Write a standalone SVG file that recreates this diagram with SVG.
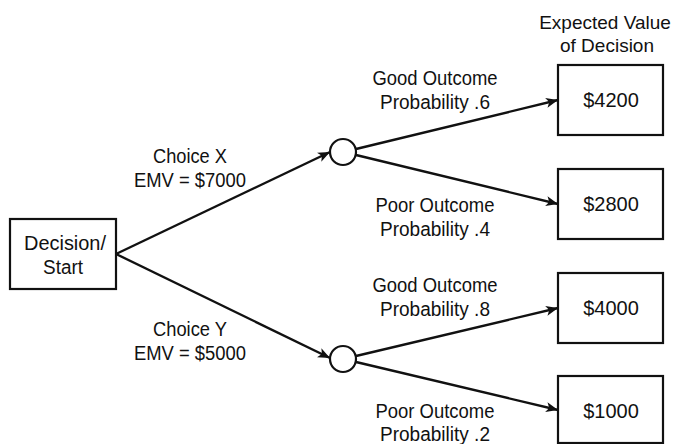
<svg xmlns="http://www.w3.org/2000/svg" width="675" height="444" viewBox="0 0 675 444">
  <style>
    text { font-family: "Liberation Sans", Arial, sans-serif; font-size: 20px; fill: #111; text-anchor: middle; }
    .box { fill: #fff; stroke: #111; stroke-width: 2.2; }
    .chance { fill: #fff; stroke: #111; stroke-width: 2.2; }
    .edge { stroke: #111; stroke-width: 2.4; fill: none; marker-end: url(#arrow); }
    .head { font-size: 19px; }
  </style>
  <defs>
    <marker id="arrow" markerWidth="12" markerHeight="10" viewBox="0 0 12 10" refX="12" refY="5" orient="auto" markerUnits="userSpaceOnUse" overflow="visible">
      <path d="M0,0 L12,5 L0,10 L3,5 Z" fill="#111"/>
    </marker>
  </defs>

  <rect width="675" height="444" fill="#fff"/>

  <!-- connectors -->
  <g id="connectors">
    <line class="edge" x1="116" y1="254" x2="330" y2="152"/>
    <line class="edge" x1="116" y1="254" x2="330" y2="358"/>
    <line class="edge" x1="356" y1="149" x2="558" y2="100"/>
    <line class="edge" x1="356" y1="155" x2="558" y2="204"/>
    <line class="edge" x1="356" y1="356" x2="558" y2="308"/>
    <line class="edge" x1="356" y1="362" x2="558" y2="410"/>
  </g>

  <!-- branch labels -->
  <g id="labels">
    <text x="190" y="163" textLength="74" lengthAdjust="spacingAndGlyphs">Choice X</text>
    <text x="190" y="187" textLength="112" lengthAdjust="spacingAndGlyphs">EMV = $7000</text>
    <text x="190" y="336" textLength="74" lengthAdjust="spacingAndGlyphs">Choice Y</text>
    <text x="190" y="360" textLength="112" lengthAdjust="spacingAndGlyphs">EMV = $5000</text>
    <text x="435" y="85" textLength="125" lengthAdjust="spacingAndGlyphs">Good Outcome</text>
    <text x="435" y="109" textLength="110" lengthAdjust="spacingAndGlyphs">Probability .6</text>
    <text x="435" y="212" textLength="119" lengthAdjust="spacingAndGlyphs">Poor Outcome</text>
    <text x="435" y="236" textLength="110" lengthAdjust="spacingAndGlyphs">Probability .4</text>
    <text x="435" y="292" textLength="125" lengthAdjust="spacingAndGlyphs">Good Outcome</text>
    <text x="435" y="316" textLength="110" lengthAdjust="spacingAndGlyphs">Probability .8</text>
    <text x="435" y="418" textLength="119" lengthAdjust="spacingAndGlyphs">Poor Outcome</text>
    <text x="435" y="441" textLength="110" lengthAdjust="spacingAndGlyphs">Probability .2</text>
    <text class="head" x="605" y="29">Expected Value</text>
    <text class="head" x="607" y="52">of Decision</text>
  </g>

  <g id="start">
    <rect class="box" x="10" y="219" width="106" height="70"/>
    <text x="65" y="250" textLength="82" lengthAdjust="spacingAndGlyphs">Decision/</text>
    <text x="63" y="274" textLength="40" lengthAdjust="spacingAndGlyphs">Start</text>
  </g>

  <g id="chanceX">
    <circle class="chance" cx="343" cy="152" r="13"/>
  </g>
  <g id="chanceY">
    <circle class="chance" cx="343" cy="359" r="13"/>
  </g>

  <g id="outcomeX1">
    <rect class="box" x="558" y="65" width="105" height="70"/>
    <text x="611" y="107">$4200</text>
  </g>
  <g id="outcomeX2">
    <rect class="box" x="558" y="169" width="105" height="70"/>
    <text x="611" y="211">$2800</text>
  </g>
  <g id="outcomeY1">
    <rect class="box" x="558" y="273" width="105" height="70"/>
    <text x="611" y="315">$4000</text>
  </g>
  <g id="outcomeY2">
    <rect class="box" x="558" y="376" width="105" height="67"/>
    <text x="611" y="418">$1000</text>
  </g>
</svg>
